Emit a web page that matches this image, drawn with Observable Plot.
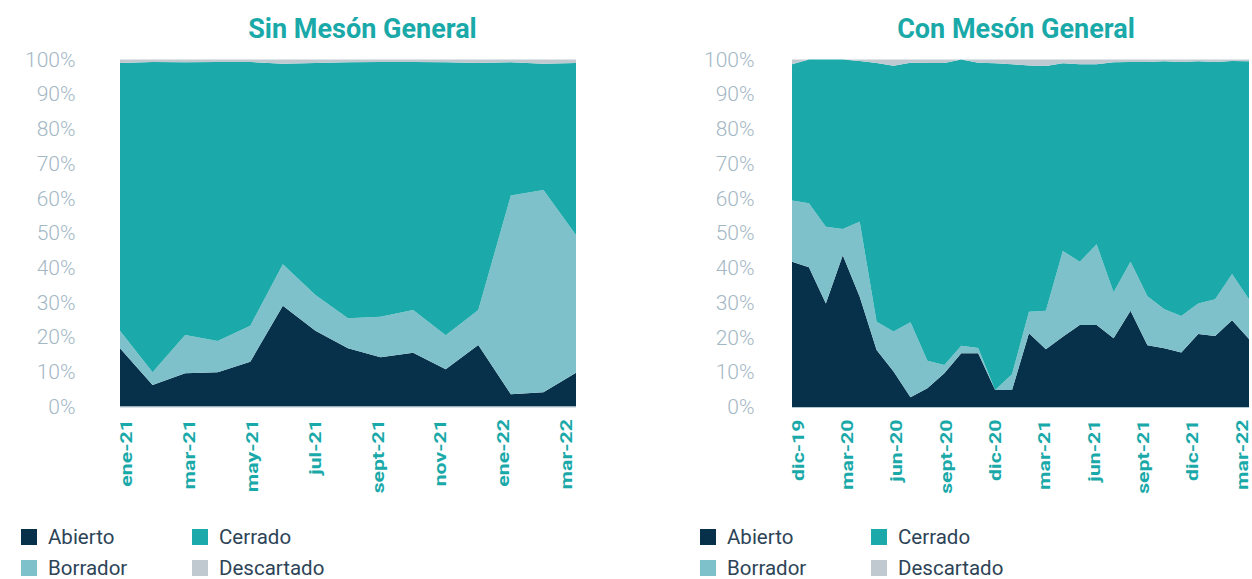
<!DOCTYPE html>
<html>
<head>
<meta charset="utf-8">
<script src="https://cdn.jsdelivr.net/npm/d3@7"></script>
<script src="https://cdn.jsdelivr.net/npm/@observablehq/plot@0.6"></script>
<style>
  html, body { margin: 0; padding: 0; background: #ffffff; }
  #page { position: relative; width: 1252px; height: 579px; overflow: hidden; font-family: Roboto, "Noto Sans", sans-serif; }
  .title { position: absolute; top: 16px; font-size: 27px; line-height: 27px; font-weight: 700; color: #1aa9a9; transform: translateX(-50%); white-space: nowrap; }
  .chart { position: absolute; top: 40px; }
  .chart svg { overflow: visible; }
  .chart [aria-label^="y-axis"] text { font-size: 21px; font-weight: 300; fill: #a3b7c4; font-family: Roboto, sans-serif; }
  .chart [aria-label^="x-axis"] text { font-size: 16px; font-weight: 700; fill: #1aa9a9; font-family: Roboto, sans-serif; }
  .leg { position: absolute; font-size: 20.5px; line-height: 15px; color: #2d4457; white-space: nowrap; }
  .sw { position: absolute; width: 16px; height: 16px; }
</style>
</head>
<body>
<div id="page"></div>
<script>
// ---- Data ----
const estados = ["Abierto", "Borrador", "Cerrado", "Descartado"];
const colores = ["#07304a", "#7fc1cb", "#1ba9a9", "#c0c9d0"];

const titulos = ["Sin Mesón General", "Con Mesón General"];

// Sin Mesón General (ene-21 .. mar-22), %
const mesesSin = ["ene-21","feb-21","mar-21","abr-21","may-21","jun-21","jul-21","ago-21","sept-21","oct-21","nov-21","dic-21","ene-22","feb-22","mar-22"];
const abiertoSin    = [16.8, 6.2, 9.6, 9.9, 12.9, 29.0, 21.8, 16.8, 14.2, 15.5, 10.7, 17.7, 3.5, 4.1, 9.7];
const borradorSin   = [5.0, 3.7, 11.0, 9.0, 10.4, 12.0, 10.3, 8.6, 11.7, 12.3, 9.8, 10.1, 57.3, 58.3, 39.7];
const cerradoSin    = [77.2, 89.4, 78.6, 80.4, 76.0, 57.8, 66.9, 73.8, 73.4, 71.5, 78.7, 71.2, 38.4, 36.4, 49.6];
const descartadoSin = [1.0, 0.7, 0.8, 0.7, 0.7, 1.2, 1.0, 0.8, 0.7, 0.7, 0.8, 1.0, 0.8, 1.2, 1.0];
const ticksSin = ["ene-21","mar-21","may-21","jul-21","sept-21","nov-21","ene-22","mar-22"];

// Con Mesón General (dic-19 .. mar-22), %
const mesesCon = ["dic-19","ene-20","feb-20","mar-20","abr-20","may-20","jun-20","jul-20","ago-20","sept-20","oct-20","nov-20","dic-20",
  "ene-21","feb-21","mar-21","abr-21","may-21","jun-21","jul-21","ago-21","sept-21","oct-21","nov-21","dic-21","ene-22","feb-22","mar-22"];
const abiertoCon    = [41.8, 40.2, 29.8, 43.7, 31.7, 16.4, 10.2, 2.8, 5.4, 9.7, 15.5, 15.5, 4.9, 4.9, 21.2, 16.6, 20.2, 23.6, 23.6, 19.8, 27.7, 17.8, 16.9, 15.7, 21.0, 20.4, 25.0, 19.6];
const borradorCon   = [17.6, 18.4, 22.1, 7.5, 21.6, 8.1, 11.5, 21.6, 7.9, 2.4, 2.1, 1.5, 0.0, 4.5, 6.2, 11.1, 24.7, 18.2, 23.2, 13.2, 14.1, 14.1, 11.2, 10.5, 8.8, 10.6, 13.3, 11.4];
const cerradoCon    = [39.2, 41.4, 48.1, 48.8, 46.3, 74.5, 76.5, 74.7, 85.7, 86.9, 82.4, 82.1, 94.0, 89.2, 70.9, 70.4, 54.0, 56.8, 51.8, 66.2, 57.5, 67.4, 71.4, 73.1, 69.7, 68.3, 61.3, 68.5];
const descartadoCon = [1.4, 0.0, 0.0, 0.0, 0.4, 1.0, 1.8, 0.9, 1.0, 1.0, 0.0, 0.9, 1.1, 1.4, 1.7, 1.9, 1.1, 1.4, 1.4, 0.8, 0.7, 0.7, 0.5, 0.7, 0.5, 0.7, 0.4, 0.5];
const ticksCon = ["dic-19","mar-20","jun-20","sept-20","dic-20","mar-21","jun-21","sept-21","dic-21","mar-22"];

const yTicks = [0, 10, 20, 30, 40, 50, 60, 70, 80, 90, 100];

// ---- Build ----
function tabla(meses, series) {
  const rows = [];
  meses.forEach((m, i) => {
    series.forEach((s, k) => rows.push({i, mes: m, estado: estados[k], valor: s[i]}));
  });
  return rows;
}

const H = 470, MT = 19.5;

function grafico(meses, series, cfg) {
  const data = tabla(meses, series);
  return Plot.plot({
    width: cfg.width,
    height: H,
    marginLeft: 120,
    marginRight: cfg.marginRight,
    marginTop: MT,
    marginBottom: cfg.marginBottom,
    style: {fontFamily: "Roboto, sans-serif", background: "transparent", overflow: "visible"},
    x: {type: "linear", domain: [0, meses.length - 1], axis: null},
    y: {
      domain: [0, 100],
      ticks: yTicks,
      tickFormat: d => d + "%",
      tickSize: 0,
      tickPadding: cfg.yPad,
      label: null
    },
    color: {domain: estados, range: colores},
    marks: [
      Plot.areaY(data, {x: "i", y: "valor", fill: "estado", order: estados, curve: "linear"}),
      Plot.ruleY([0], {stroke: "#b3c6d1", strokeWidth: 1})
    ]
  });
}

// category axis: labels sit slightly inset from the plot edges, as in the original
function ejeX(meses, ticks, cfg) {
  const idx = ticks.map(t => meses.indexOf(t));
  const svg = Plot.plot({
    width: cfg.width,
    height: H,
    marginLeft: cfg.axLeft,
    marginRight: cfg.axRight,
    marginTop: MT,
    marginBottom: cfg.marginBottom,
    style: {fontFamily: "Roboto, sans-serif", background: "transparent", overflow: "visible"},
    x: {
      type: "linear",
      domain: [0, meses.length - 1],
      ticks: idx,
      tickFormat: i => meses[i],
      tickRotate: -90,
      tickSize: 0,
      tickPadding: 12,
      label: null
    },
    marks: [Plot.ruleX(idx, {x: d => d, stroke: "none"})]
  });
  svg.querySelectorAll('[aria-label^="x-axis"] text').forEach(t => {
    const tr = t.getAttribute("transform") || "";
    t.setAttribute("transform", tr + " scale(1.33,1)");
  });
  return svg;
}

const page = document.getElementById("page");

function addChart(left, svg) {
  const d = document.createElement("div");
  d.className = "chart";
  d.style.left = left + "px";
  d.appendChild(svg);
  page.appendChild(d);
}

function addTitle(cx, text) {
  const d = document.createElement("div");
  d.className = "title";
  d.style.left = cx + "px";
  d.textContent = text;
  page.appendChild(d);
}

function addLegend(x0, x1) {
  const pos = [[x0, 0], [x0, 1], [x1, 0], [x1, 1]]; // Abierto, Borrador, Cerrado, Descartado
  estados.forEach((e, k) => {
    const [x, r] = pos[k];
    const top = r === 0 ? 529 : 560;
    const sw = document.createElement("div");
    sw.className = "sw";
    sw.style.left = x + "px";
    sw.style.top = top + "px";
    sw.style.background = colores[k];
    page.appendChild(sw);
    const t = document.createElement("div");
    t.className = "leg";
    t.style.left = (x + 27) + "px";
    t.style.top = (top + 0.5) + "px";
    t.textContent = e;
    page.appendChild(t);
  });
}

addTitle(362.5, titulos[0]);
addTitle(1016, titulos[1]);

const cfgSin = {width: 600, marginRight: 24, marginBottom: 103.5, yPad: 45, axLeft: 126.5, axRight: 33.5};
const cfgCon = {width: 580, marginRight: 3, marginBottom: 103, yPad: 38, axLeft: 126, axRight: 10};

addChart(0, grafico(mesesSin, [abiertoSin, borradorSin, cerradoSin, descartadoSin], cfgSin));
addChart(0, ejeX(mesesSin, ticksSin, cfgSin));
addChart(672, grafico(mesesCon, [abiertoCon, borradorCon, cerradoCon, descartadoCon], cfgCon));
addChart(672, ejeX(mesesCon, ticksCon, cfgCon));

addLegend(21, 192);
addLegend(700, 871);
</script>
</body>
</html>
